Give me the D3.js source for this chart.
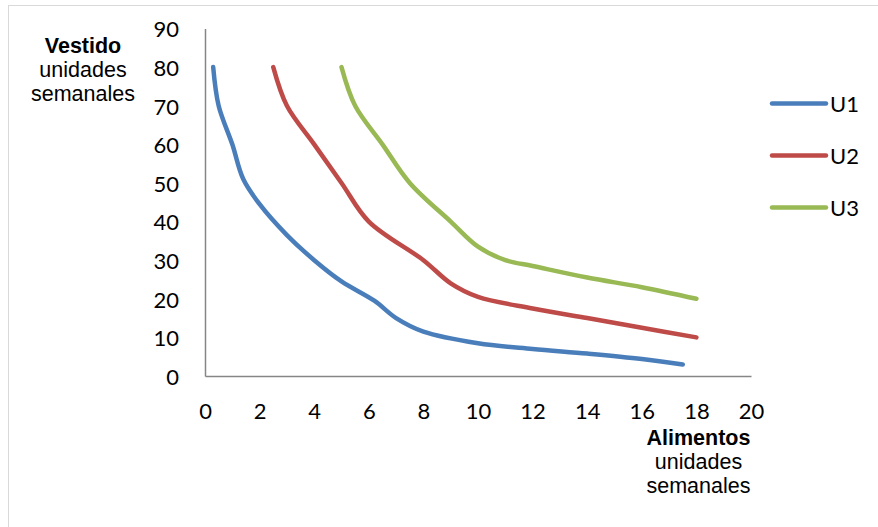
<!DOCTYPE html>
<html>
<head>
<meta charset="utf-8">
<script src="https://cdn.jsdelivr.net/npm/d3@7"></script>
<style>
  html, body { margin: 0; padding: 0; background: #fff; }
  svg { display: block; }
</style>
</head>
<body>
<svg id="chart" width="878" height="527"></svg>
<script>
// Indifference curves: clothing (Vestido) vs food (Alimentos), weekly units
const seriesNames = ["U1", "U2", "U3"];
const seriesColors = ["#4A7EBB", "#BE4B48", "#98B954"];

const u1X = [0.3, 0.5, 1, 1.4, 2, 3, 4, 5, 6.2, 7, 8, 10, 12, 14, 16, 17.5];
const u1Y = [80, 70, 60, 51, 44.5, 36.5, 30, 24.5, 19.5, 15, 11.5, 8.5, 7, 5.8, 4.4, 3];

const u2X = [2.5, 3, 4, 5, 6, 8, 9, 10, 12, 14, 16, 18];
const u2Y = [80, 70, 60, 50, 40, 30, 24, 20.5, 17.5, 15, 12.5, 10];

const u3X = [5, 5.5, 6.5, 7.5, 9, 10, 11, 12, 14, 16, 18];
const u3Y = [80, 70, 60, 50, 40, 33.5, 30, 28.5, 25.5, 23, 20];

const xTicks = [0, 2, 4, 6, 8, 10, 12, 14, 16, 18, 20];
const yTicks = [0, 10, 20, 30, 40, 50, 60, 70, 80, 90];

const seriesX = [u1X, u2X, u3X];
const seriesY = [u1Y, u2Y, u3Y];

const svg = d3.select("#chart");
const W = 878, H = 527;

// outer frame
svg.append("rect")
  .attr("x", 8.5).attr("y", 5.5)
  .attr("width", W + 10).attr("height", H + 10)
  .attr("fill", "none").attr("stroke", "#d9d9d9").attr("stroke-width", 1);

const plot = { left: 205, right: 751, top: 28.5, bottom: 376 };

const x = d3.scaleLinear().domain([0, 20]).range([plot.left, plot.right]);
const y = d3.scaleLinear().domain([0, 90]).range([plot.bottom, plot.top]);

const tickFont = "Lato, 'Open Sans', sans-serif";
const titleFont = "'Liberation Sans', Arial, sans-serif";

// axes (no tick marks, grey domain line)
const xAxis = svg.append("g")
  .attr("transform", `translate(0,${plot.bottom})`)
  .call(d3.axisBottom(x).tickValues(xTicks).tickSize(0).tickFormat(d3.format("d")));
xAxis.select(".domain").attr("stroke", "#868686").attr("stroke-width", 1.5);
xAxis.selectAll("text")
  .attr("y", 43).attr("dy", 0)
  .attr("fill", "#000")
  .style("font-family", tickFont).style("font-size", "22px");

const yAxis = svg.append("g")
  .attr("transform", `translate(${plot.left},0)`)
  .call(d3.axisLeft(y).tickValues(yTicks).tickSize(0).tickPadding(26).tickFormat(d3.format("d")));
yAxis.select(".domain").attr("stroke", "#868686").attr("stroke-width", 1.5);
yAxis.selectAll("text")
  .attr("dy", "0.38em")
  .attr("fill", "#000")
  .style("font-family", tickFont).style("font-size", "22px");

// curves
const line = d3.line()
  .x(d => x(d[0]))
  .y(d => y(d[1]))
  .curve(d3.curveCatmullRom.alpha(0.5));

seriesNames.forEach((name, i) => {
  const pts = seriesX[i].map((v, j) => [v, seriesY[i][j]]);
  svg.append("path")
    .datum(pts)
    .attr("d", line)
    .attr("fill", "none")
    .attr("stroke", seriesColors[i])
    .attr("stroke-width", 4.5)
    .attr("stroke-linecap", "round")
    .attr("stroke-linejoin", "round");
});

// legend
const legend = svg.append("g");
const legendY = [103.5, 155.5, 207.5];
seriesNames.forEach((name, i) => {
  legend.append("line")
    .attr("x1", 772).attr("x2", 826)
    .attr("y1", legendY[i]).attr("y2", legendY[i])
    .attr("stroke", seriesColors[i]).attr("stroke-width", 4.5)
    .attr("stroke-linecap", "round");
  legend.append("text")
    .attr("x", 830).attr("y", legendY[i] + 8.3)
    .attr("fill", "#000")
    .style("font-family", tickFont).style("font-size", "22px")
    .text(name);
});

// axis titles
function axisTitle(cx, baselines, lines) {
  const t = svg.append("text")
    .attr("text-anchor", "middle")
    .attr("fill", "#000")
    .style("font-family", titleFont).style("font-size", "21.5px");
  lines.forEach((s, k) => {
    t.append("tspan")
      .attr("x", cx).attr("y", baselines[k])
      .style("font-weight", k === 0 ? "bold" : "normal")
      .text(s);
  });
}
axisTitle(83, [53, 77, 100.5], ["Vestido", "unidades", "semanales"]);
axisTitle(698.5, [445, 468.5, 493], ["Alimentos", "unidades", "semanales"]);
</script>
</body>
</html>
